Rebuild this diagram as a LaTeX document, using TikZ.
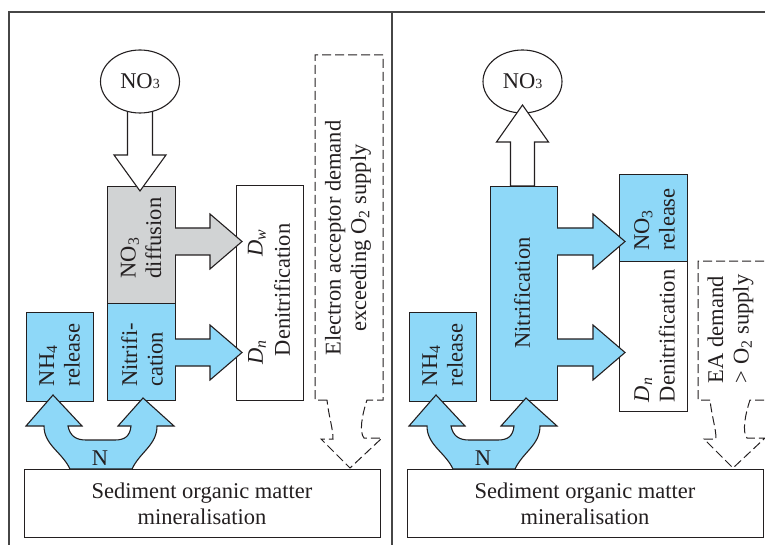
\documentclass[tikz,border=0pt]{standalone}
\usepackage{fontspec}
\setmainfont{Liberation Serif}
\usetikzlibrary{shapes.geometric}
\definecolor{nblue}{RGB}{142,216,248}
\definecolor{ngray}{RGB}{209,211,212}
\definecolor{ink}{RGB}{35,31,32}
\definecolor{framec}{RGB}{70,70,70}
\tikzset{
 box/.style={draw=ink, line width=1.1pt, inner sep=0pt, anchor=north west},
 lbl/.style={rotate=90, inner sep=0pt, font=\fontsize{22.5}{25.5}\selectfont, text=ink},
 flat/.style={inner sep=0pt, font=\fontsize{22.5}{26}\selectfont, text=ink},
 dsh/.style={draw=ink, line width=1pt, dash pattern=on 9pt off 4pt},
 outl/.style={draw=ink, line width=1.1pt, line join=miter},
}
\newcommand{\myrarrow}[4]{%
 \fill[#4] (#1-1,#2-13.5) -- (#3-32,#2-13.5) -- (#3-32,#2-27.5) -- (#3,#2) -- (#3-32,#2+27.5) -- (#3-32,#2+13.5) -- (#1-1,#2+13.5) -- cycle;
 \draw[outl] (#1,#2-13.5) -- (#3-32,#2-13.5) -- (#3-32,#2-27.5) -- (#3,#2) -- (#3-32,#2+27.5) -- (#3-32,#2+13.5) -- (#1,#2+13.5);
}
\newcommand{\mynarrow}{%
 \filldraw[fill=nblue, outl] (70,469) .. controls (62,452) and (44,445) .. (44,426) -- (26,426) -- (53,395) -- (82,426) -- (68,426)
   .. controls (70,436) and (76,440) .. (86,440) -- (115,440) .. controls (125,440) and (130,436) .. (131,426)
   -- (118,426) -- (143,398) -- (174,426) -- (157,426) .. controls (157,445) and (140,452) .. (132,469) -- cycle;
}
\begin{document}
\begin{tikzpicture}[x=1pt,y=-1pt]
\useasboundingbox (0,0) rectangle (765,545);
% frame
\draw[framec, line width=1.5pt] (9,550) -- (9,12) -- (770,12);
\draw[framec, line width=1.5pt] (392,12) -- (392,550);

% ================= left panel =================
\node[box, fill=ngray, minimum width=68pt, minimum height=117pt] (diffL) at (107,186) {};
\node[box, fill=nblue, minimum width=68pt, minimum height=97pt] (nitL) at (107,303) {};
\node[box, fill=nblue, minimum width=67pt, minimum height=89pt] (nh4L) at (26,312) {};
\node[box, fill=white, minimum width=67pt, minimum height=215pt] (denL) at (236,185) {};
\node[box, fill=white, minimum width=356pt, minimum height=68pt] (sedL) at (24,469) {};

% down arrow into diffusion box
\filldraw[fill=white, outl] (127.5,105) -- (127.5,155) -- (114,155) -- (140,191) -- (166,155) -- (152.5,155) -- (152.5,105) -- cycle;
\node[draw=ink, line width=1.1pt, fill=white, ellipse, minimum width=79pt, minimum height=63pt, inner sep=0pt] (no3L) at (140,81.5) {};
\node[flat] (no3Lt) at (no3L.center) {NO{\fontsize{14}{14}\selectfont 3}};

\myrarrow{175}{241.5}{242}{ngray}
\myrarrow{175}{352.5}{242}{nblue}

\mynarrow
\node[flat] (nL) at (100,458) {N};

% dashed demand box and arrow
\path[dsh] (327,400) -- (315,400) -- (315,55) -- (383,55) -- (383,400) -- (367,400)
  .. controls (362,415) and (359,432) .. (364,438) -- (382,438) -- (350,468) -- (321,439) -- (333,439)
  .. controls (333,428) and (329,418) .. (327,400);

% labels
\node[lbl, align=left] (diffLt) at (141,238) {NO\textsubscript{3}\\diffusion};
\node[lbl, align=left] (nitLt) at (142,355) {Nitrifi-\\cation};
\node[lbl, align=left] (nh4Lt) at (59.5,355) {NH\textsubscript{4}\\release};
\node[lbl] (denLt) at (282,290) {Denitrification};
\node[lbl] (dwL) at (257,243) {\textit{D}\textsubscript{\textit{w}}};
\node[lbl] (dnL) at (257,352) {\textit{D}\textsubscript{\textit{n}}};
\node[lbl, align=center] (eaLt) at (348,238) {Electron acceptor demand\\exceeding O\textsubscript{2} supply};
\node[flat, align=center] (sedLt) at (202,504) {Sediment organic matter\\mineralisation};

% ================= right panel =================
\node[box, fill=nblue, minimum width=67pt, minimum height=214pt] (nitR) at (490,186) {};
\node[box, fill=nblue, minimum width=67pt, minimum height=89pt] (nh4R) at (409,312) {};
\node[box, fill=nblue, minimum width=68pt, minimum height=87pt] (relR) at (619,174) {};
\node[box, fill=white, minimum width=68pt, minimum height=150pt] (denR) at (619,261) {};
\node[box, fill=white, minimum width=356pt, minimum height=68pt] (sedR) at (407,469) {};

\node[draw=ink, line width=1.1pt, fill=white, ellipse, minimum width=79pt, minimum height=63pt, inner sep=0pt] (no3R) at (522.5,81.5) {};
\node[flat] (no3Rt) at (no3R.center) {NO{\fontsize{14}{14}\selectfont 3}};
\filldraw[fill=white, outl] (510.5,186) -- (510.5,142) -- (496.5,142) -- (522.5,105) -- (548.5,142) -- (534.5,142) -- (534.5,186) -- cycle;

\myrarrow{557}{241.5}{625}{nblue}
\myrarrow{557}{352.5}{625}{nblue}

\begin{scope}[xshift=383pt]
\mynarrow
\end{scope}
\node[flat] (nR) at (483,458) {N};

\path[dsh] (710,400) -- (698,400) -- (698,261) -- (768,261) -- (768,400) -- (750,400)
  .. controls (745,415) and (742,432) .. (747,438) -- (765,438) -- (733,468) -- (704,439) -- (716,439)
  .. controls (716,428) and (712,418) .. (710,400);

\node[lbl, align=left] (nh4Rt) at (442.5,355) {NH\textsubscript{4}\\release};
\node[lbl] (nitRt) at (522,293) {Nitrification};
\node[lbl, align=left] (relRt) at (654.5,219.5) {NO\textsubscript{3}\\release};
\node[lbl, align=left] (denRt) at (654.5,336) {\textit{D}\textsubscript{\textit{n}}\\Denitrification};
\node[lbl, align=left] (eaRt) at (730.5,329) {EA demand\\> O\textsubscript{2} supply};
\node[flat, align=center] (sedRt) at (585,504) {Sediment organic matter\\mineralisation};
\end{tikzpicture}
\end{document}
